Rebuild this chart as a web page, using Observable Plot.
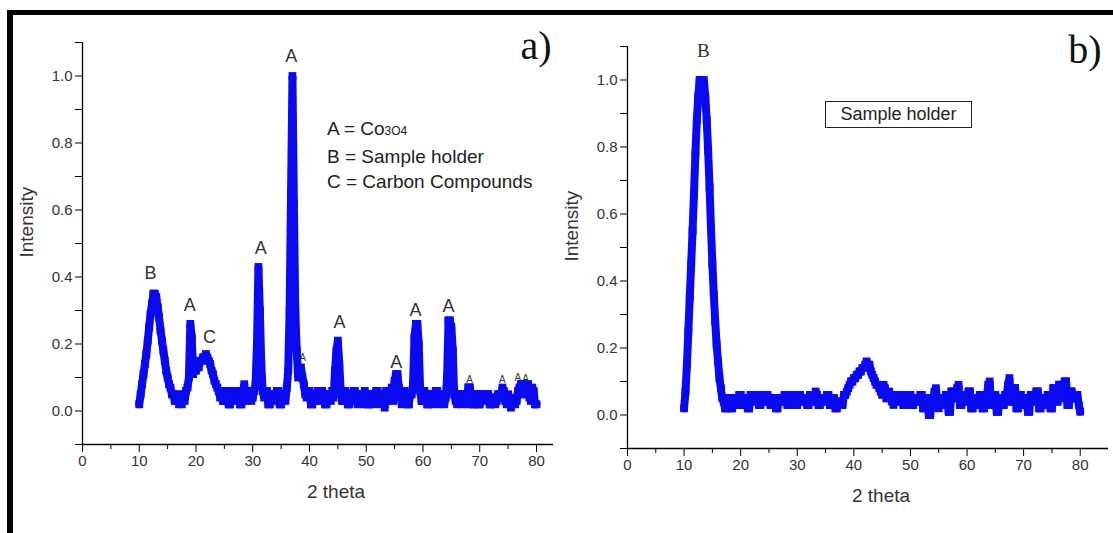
<!DOCTYPE html>
<html>
<head>
<meta charset="utf-8">
<script src="https://cdn.jsdelivr.net/npm/d3@7"></script>
<script src="https://cdn.jsdelivr.net/npm/@observablehq/plot@0.6"></script>
<style>
  html, body { margin: 0; padding: 0; background: #fff; }
  #stage { position: relative; width: 1113px; height: 533px; overflow: hidden; font-family: "Liberation Sans", Arial, sans-serif; }
  .panel { position: absolute; top: 0; }
  #pa { left: 0; }
  #pb { left: 553px; }
  #frame { position: absolute; left: 7px; top: 10px; width: 1200px; height: 600px; border-top: 5px solid #000; border-left: 6px solid #000; pointer-events: none; }
  .tag { position: absolute; font-family: "Liberation Serif", "Times New Roman", serif; font-size: 40px; color: #111; line-height: 1; transform: translate(-50%, -50%); }
  .legend { position: absolute; left: 327px; top: 116px; font-size: 19px; line-height: 25px; color: #222; white-space: nowrap; }
  .legend .s { font-size: 12px; }
  .box { position: absolute; left: 825px; top: 101px; width: 145px; height: 25px; border: 1px solid #222; font-size: 18px; line-height: 25px; text-align: center; color: #222; white-space: nowrap; }
</style>
</head>
<body>
<div id="stage">
  <div class="panel" id="pa"></div>
  <div class="panel" id="pb"></div>
  <div class="legend">
    <div>A = Co<span class="s">3</span><span class="s">O</span><span class="s">4</span></div>
    <div>B = Sample holder</div>
    <div>C = Carbon Compounds</div>
  </div>
  <div class="box">Sample holder</div>
  <div class="tag" style="left:536px; top:46px;">a)</div>
  <div class="tag" style="left:1085px; top:50px;">b)</div>
  <div id="frame"></div>
</div>
<script>
// ---- data (2θ scan 10–80°, step 0.25°; one row per degree) ----
const twoTheta = d3.range(10, 80.001, 0.25);

// a) Co3O4 sample, normalised intensity
const intensityA = [
  0.02,0.05,0.08,0.11, // 10
  0.14,0.17,0.21,0.25, // 11
  0.29,0.32,0.35,0.35, // 12
  0.34,0.31,0.28,0.24, // 13
  0.21,0.18,0.15,0.12, // 14
  0.10,0.08,0.07,0.05, // 15
  0.05,0.03,0.03,0.05, // 16
  0.02,0.04,0.02,0.05, // 17
  0.03,0.06,0.07,0.10, // 18
  0.26,0.22,0.11,0.13, // 19
  0.12,0.14,0.13,0.15, // 20
  0.15,0.16,0.16,0.17, // 21
  0.16,0.15,0.14,0.12, // 22
  0.11,0.09,0.08,0.07, // 23
  0.06,0.04,0.05,0.03, // 24
  0.03,0.06,0.05,0.02, // 25
  0.02,0.06,0.05,0.03, // 26
  0.03,0.06,0.05,0.02, // 27
  0.02,0.05,0.08,0.04, // 28
  0.03,0.06,0.05,0.03, // 29
  0.04,0.06,0.08,0.20, // 30
  0.43,0.30,0.14,0.06, // 31
  0.04,0.06,0.06,0.02, // 32
  0.02,0.05,0.05,0.03, // 33
  0.03,0.06,0.06,0.02, // 34
  0.02,0.05,0.05,0.03, // 35
  0.07,0.12,0.30,0.65, // 36
  1.00,0.62,0.30,0.18, // 37
  0.10,0.12,0.13,0.10, // 38
  0.08,0.05,0.04,0.06, // 39
  0.06,0.02,0.02,0.05, // 40
  0.05,0.03,0.06,0.04, // 41
  0.03,0.06,0.05,0.02, // 42
  0.02,0.05,0.05,0.03, // 43
  0.06,0.04,0.12,0.18, // 44
  0.21,0.14,0.06,0.03, // 45
  0.03,0.06,0.05,0.02, // 46
  0.02,0.05,0.04,0.06, // 47
  0.06,0.03,0.02,0.05, // 48
  0.05,0.02,0.03,0.06, // 49
  0.05,0.02,0.02,0.05, // 50
  0.05,0.02,0.03,0.06, // 51
  0.06,0.03,0.02,0.05, // 52
  0.05,0.01,0.06,0.04, // 53
  0.03,0.06,0.07,0.03, // 54
  0.09,0.11,0.11,0.07, // 55
  0.05,0.02,0.03,0.06, // 56
  0.05,0.02,0.02,0.05, // 57
  0.05,0.08,0.22,0.26, // 58
  0.26,0.20,0.06,0.03, // 59
  0.03,0.06,0.05,0.02, // 60
  0.02,0.05,0.05,0.02, // 61
  0.03,0.06,0.06,0.03, // 62
  0.02,0.05,0.05,0.02, // 63
  0.04,0.10,0.27,0.27, // 64
  0.25,0.18,0.05,0.03, // 65
  0.02,0.05,0.05,0.02, // 66
  0.03,0.05,0.05,0.02, // 67
  0.07,0.07,0.04,0.02, // 68
  0.02,0.05,0.05,0.02, // 69
  0.02,0.05,0.05,0.03, // 70
  0.03,0.05,0.05,0.02, // 71
  0.02,0.04,0.04,0.02, // 72
  0.03,0.05,0.05,0.04, // 73
  0.07,0.06,0.03,0.02, // 74
  0.05,0.03,0.01,0.03, // 75
  0.04,0.02,0.03,0.06, // 76
  0.07,0.08,0.08,0.05, // 77
  0.05,0.08,0.08,0.04, // 78
  0.03,0.07,0.06,0.02, // 79
  0.02                 // 80
];

// b) sample holder, normalised intensity
const intensityB = [
  0.02,0.07,0.15,0.25, // 10
  0.35,0.45,0.55,0.66, // 11
  0.78,0.88,0.95,1.00, // 12
  1.00,0.99,1.00,0.95, // 13
  0.88,0.79,0.68,0.56, // 14
  0.45,0.36,0.28,0.21, // 15
  0.16,0.11,0.08,0.05, // 16
  0.04,0.02,0.02,0.05, // 17
  0.05,0.02,0.02,0.05, // 18
  0.05,0.03,0.03,0.06, // 19
  0.06,0.03,0.03,0.05, // 20
  0.05,0.02,0.02,0.06, // 21
  0.06,0.04,0.04,0.06, // 22
  0.05,0.03,0.03,0.06, // 23
  0.06,0.04,0.04,0.06, // 24
  0.05,0.03,0.03,0.05, // 25
  0.05,0.02,0.02,0.05, // 26
  0.05,0.04,0.04,0.06, // 27
  0.06,0.03,0.03,0.05, // 28
  0.05,0.06,0.06,0.03, // 29
  0.03,0.06,0.06,0.04, // 30
  0.04,0.05,0.05,0.03, // 31
  0.03,0.06,0.06,0.04, // 32
  0.04,0.07,0.06,0.03, // 33
  0.03,0.05,0.05,0.04, // 34
  0.04,0.06,0.06,0.03, // 35
  0.03,0.05,0.05,0.02, // 36
  0.02,0.04,0.04,0.03, // 37
  0.03,0.06,0.06,0.07, // 38
  0.08,0.09,0.10,0.10, // 39
  0.11,0.11,0.12,0.12, // 40
  0.13,0.13,0.14,0.14, // 41
  0.15,0.16,0.15,0.15, // 42
  0.13,0.12,0.11,0.10, // 43
  0.09,0.09,0.08,0.07, // 44
  0.06,0.09,0.08,0.05, // 45
  0.05,0.07,0.06,0.04, // 46
  0.03,0.06,0.06,0.04, // 47
  0.04,0.06,0.06,0.03, // 48
  0.03,0.05,0.05,0.06, // 49
  0.06,0.03,0.03,0.05, // 50
  0.05,0.04,0.04,0.06, // 51
  0.06,0.02,0.02,0.05, // 52
  0.05,0.00,0.00,0.04, // 53
  0.04,0.07,0.08,0.03, // 54
  0.02,0.05,0.05,0.03, // 55
  0.03,0.06,0.06,0.01, // 56
  0.01,0.07,0.07,0.05, // 57
  0.05,0.08,0.09,0.03, // 58
  0.03,0.06,0.06,0.04, // 59
  0.04,0.07,0.07,0.02, // 60
  0.02,0.05,0.05,0.03, // 61
  0.03,0.06,0.06,0.02, // 62
  0.02,0.05,0.05,0.09, // 63
  0.10,0.03,0.03,0.06, // 64
  0.06,0.01,0.01,0.05, // 65
  0.05,0.03,0.03,0.06, // 66
  0.06,0.09,0.11,0.04, // 67
  0.04,0.08,0.08,0.02, // 68
  0.02,0.06,0.06,0.03, // 69
  0.03,0.05,0.05,0.01, // 70
  0.01,0.06,0.06,0.04, // 71
  0.04,0.07,0.07,0.02, // 72
  0.02,0.05,0.05,0.03, // 73
  0.03,0.06,0.06,0.02, // 74
  0.02,0.08,0.08,0.04, // 75
  0.04,0.09,0.09,0.05, // 76
  0.05,0.10,0.10,0.03, // 77
  0.03,0.07,0.07,0.05, // 78
  0.05,0.06,0.06,0.03, // 79
  0.01                 // 80
];

// peak annotations (2θ, intensity, letter)
const peakLabelsA = [
  {x: 12.0, y: 0.41, t: "B"},
  {x: 18.9, y: 0.315, t: "A"},
  {x: 22.4, y: 0.22, t: "C"},
  {x: 31.4, y: 0.485, t: "A"},
  {x: 36.8, y: 1.06, t: "A"},
  {x: 45.3, y: 0.265, t: "A"},
  {x: 55.3, y: 0.147, t: "A"},
  {x: 58.7, y: 0.30, t: "A"},
  {x: 64.5, y: 0.313, t: "A"}
];
const minorLabelsA = [
  {x: 38.8, y: 0.158, t: "A"},
  {x: 68.2, y: 0.093, t: "A"},
  {x: 74.0, y: 0.093, t: "A"},
  {x: 76.7, y: 0.099, t: "A"},
  {x: 78.1, y: 0.096, t: "A"}
];
const peakLabelsB = [{x: 13.4, y: 1.086, t: "B"}];

const majorX = [0, 10, 20, 30, 40, 50, 60, 70, 80];
const minorX = [5, 15, 25, 35, 45, 55, 65, 75];
const majorY = [0, 0.2, 0.4, 0.6, 0.8, 1.0];
const minorY = [-0.1, 0.1, 0.3, 0.5, 0.7, 0.9, 1.1];

if (intensityA.length !== twoTheta.length || intensityB.length !== twoTheta.length) {
  throw new Error(`length mismatch: grid ${twoTheta.length}, a ${intensityA.length}, b ${intensityB.length}`);
}

// ---- drawing ----
const blue = "#0a0af0";
const ink = "#333";

function panel(values, o) {
  const scan = twoTheta.map((t, i) => ({t, v: values[i]}));
  return Plot.plot({
    width: o.width, height: 533,
    marginLeft: o.ml, marginRight: o.mr, marginTop: o.mt, marginBottom: o.mb,
    x: {domain: [0, o.xmax], label: null},
    y: {domain: [-0.1, 1.1], label: null},
    style: {background: "transparent", color: "#000", fontFamily: "'Liberation Sans', Arial, sans-serif", fontSize: "15px", overflow: "visible"},
    marks: [
      Plot.axisY(majorY, {tickSize: 7, tickPadding: 3, tickFormat: d3.format(".1f"), fill: ink, fontSize: 15, label: null}),
      Plot.axisY(minorY, {tickSize: 7, tickFormat: () => "", label: null}),
      Plot.axisX(majorX, {tickSize: 8, tickPadding: 3, tickFormat: d => String(d), fill: ink, fontSize: 15, label: null}),
      Plot.axisX(minorX, {tickSize: 5, tickFormat: () => "", label: null}),
      Plot.ruleX([0], {strokeWidth: 1.3}),
      Plot.ruleY([-0.1], {strokeWidth: 1.3}),
      Plot.line(scan, {x: "t", y: "v", stroke: blue, strokeWidth: 8, strokeLinejoin: "miter", strokeMiterlimit: 1.5}),
      Plot.dot(scan, {x: "t", y: "v", symbol: "square", r: 4.4, fill: blue, stroke: "none"}),
      ...o.extra,
      Plot.text(["Intensity"], {text: d => d, frameAnchor: "left", dx: -56, dy: 14, rotate: -90, fontSize: 19, fill: ink}),
      Plot.text(["2 theta"], {text: d => d, frameAnchor: "bottom", dx: o.tdx, dy: 53, fontSize: 19, fill: ink})
    ]
  });
}

document.getElementById("pa").append(panel(intensityA, {
  width: 560, ml: 82, mr: 7, mt: 42, mb: 89, xmax: 83, tdx: 18,
  extra: [
    Plot.text(peakLabelsA, {x: "x", y: "y", text: "t", fontSize: 18, fill: ink}),
    Plot.text(minorLabelsA, {x: "x", y: "y", text: "t", fontSize: 10, fill: ink})
  ]
}));

document.getElementById("pb").append(panel(intensityB, {
  width: 560, ml: 74, mr: 5, mt: 46, mb: 85, xmax: 85, tdx: 13,
  extra: [
    Plot.text(peakLabelsB, {x: "x", y: "y", text: "t", fontSize: 19, fill: ink, fontFamily: "'Liberation Serif', 'Times New Roman', serif"})
  ]
}));
</script>
</body>
</html>
